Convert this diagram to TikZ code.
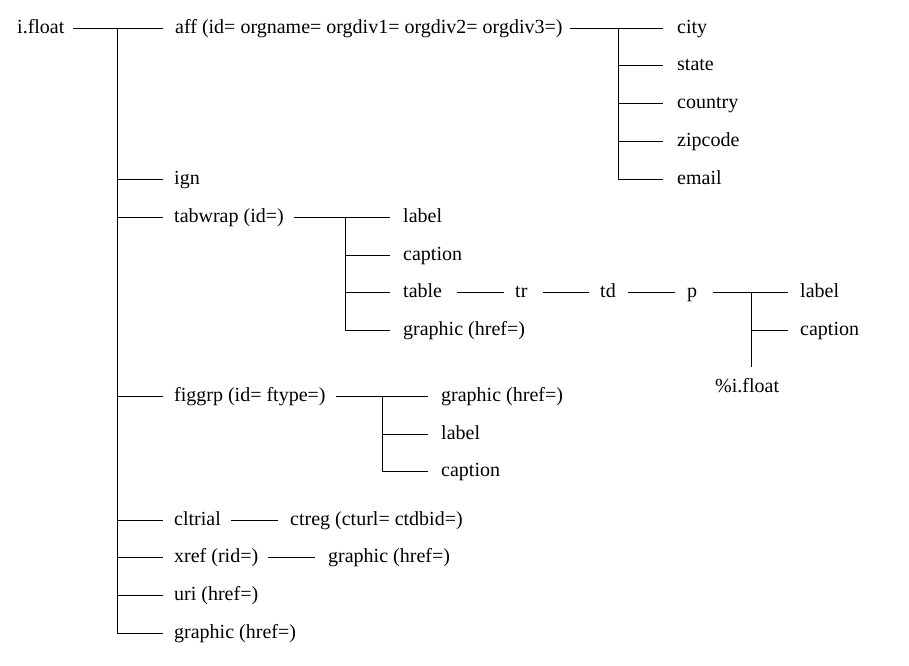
\documentclass[tikz,border=0pt]{standalone}
\usepackage{fontspec}
\setmainfont{Liberation Serif}
\begin{document}
\begin{tikzpicture}[x=1pt,y=-1pt,
  lbl/.style={anchor=west, inner sep=0pt, text height=15pt, text depth=4.4pt,
              font=\fontsize{20}{24}\selectfont},
  wire/.style={draw=black, line width=1pt},
  stem/.style={wire, line cap=rect}]
\fill[white] (0,0) rectangle (909,665);
\useasboundingbox (0,0) rectangle (909,665);

% element names
\node[lbl] (ifloat) at (17,28) {i.float};
\node[lbl] (aff) at (175,28) {aff (id= orgname= orgdiv1= orgdiv2= orgdiv3=)};
\node[lbl] (city) at (677,28) {city};
\node[lbl] (state) at (677,65.5) {state};
\node[lbl] (country) at (677,103) {country};
\node[lbl] (zipcode) at (677,141) {zipcode};
\node[lbl] (email) at (677,179) {email};
\node[lbl] (ign) at (174,179.5) {ign};
\node[lbl] (tabwrap) at (174,217) {tabwrap (id=)};
\node[lbl] (tlabel) at (403,217) {label};
\node[lbl] (tcaption) at (403,255) {caption};
\node[lbl] (table) at (403,292.5) {table};
\node[lbl] (tgraphic) at (403,330) {graphic (href=)};
\node[lbl] (tr) at (515,292.5) {tr};
\node[lbl] (td) at (600,292.5) {td};
\node[lbl] (p) at (687,292.5) {p};
\node[lbl] (plabel) at (800,292.5) {label};
\node[lbl] (pcaption) at (800,330) {caption};
\node[lbl] (pfloat) at (715,387) {\%i.float};
\node[lbl] (figgrp) at (174,396.5) {figgrp (id= ftype=)};
\node[lbl] (fgraphic) at (441,396.5) {graphic (href=)};
\node[lbl] (flabel) at (441,434) {label};
\node[lbl] (fcaption) at (441,471) {caption};
\node[lbl] (cltrial) at (174,520) {cltrial};
\node[lbl] (ctreg) at (290,520) {ctreg (cturl= ctdbid=)};
\node[lbl] (xref) at (174,557.5) {xref (rid=)};
\node[lbl] (xgraphic) at (328,557.5) {graphic (href=)};
\node[lbl] (uri) at (174,595) {uri (href=)};
\node[lbl] (graphic) at (174,633) {graphic (href=)};

% branching points
\coordinate (jroot) at (117,28);
\coordinate (jaff) at (618,28);
\coordinate (jtab) at (345,217);
\coordinate (jp) at (751,292.5);
\coordinate (jfig) at (382,396.5);

% root level
\draw[wire, shorten <=8pt, shorten >=12pt] (ifloat.east) -- (aff.west);
\draw[stem] (jroot) -- (jroot |- graphic.west);
\foreach \c in {ign,tabwrap,figgrp,cltrial,xref,uri,graphic}
  \draw[wire, shorten >=11pt] (jroot |- \c.west) -- (\c.west);

% aff
\draw[wire, shorten <=7pt, shorten >=14pt] (aff.east) -- (city.west);
\draw[stem] (jaff) -- (jaff |- email.west);
\foreach \c in {state,country,zipcode,email}
  \draw[wire, shorten >=14pt] (jaff |- \c.west) -- (\c.west);

% tabwrap
\draw[wire, shorten <=10pt, shorten >=13pt] (tabwrap.east) -- (tlabel.west);
\draw[stem] (jtab) -- (jtab |- tgraphic.west);
\foreach \c in {tcaption,table,tgraphic}
  \draw[wire, shorten >=13pt] (jtab |- \c.west) -- (\c.west);

% table chain
\draw[wire, shorten <=15pt, shorten >=11pt] (table.east) -- (tr.west);
\draw[wire, shorten <=15pt, shorten >=11pt] (tr.east) -- (td.west);
\draw[wire, shorten <=12pt, shorten >=12pt] (td.east) -- (p.west);
\draw[wire, shorten <=16pt, shorten >=12pt] (p.east) -- (plabel.west);
\draw[wire, shorten >=10.3pt] (jp) -- (jp |- pfloat.north);
\draw[wire, shorten >=12pt] (jp |- pcaption.west) -- (pcaption.west);

% figgrp
\draw[wire, shorten <=10.6pt, shorten >=13pt] (figgrp.east) -- (fgraphic.west);
\draw[stem] (jfig) -- (jfig |- fcaption.west);
\foreach \c in {flabel,fcaption}
  \draw[wire, shorten >=13pt] (jfig |- \c.west) -- (\c.west);

% single links
\draw[wire, shorten <=10pt, shorten >=12pt] (cltrial.east) -- (ctreg.west);
\draw[wire, shorten <=10pt, shorten >=13pt] (xref.east) -- (xgraphic.west);
\end{tikzpicture}
\end{document}
